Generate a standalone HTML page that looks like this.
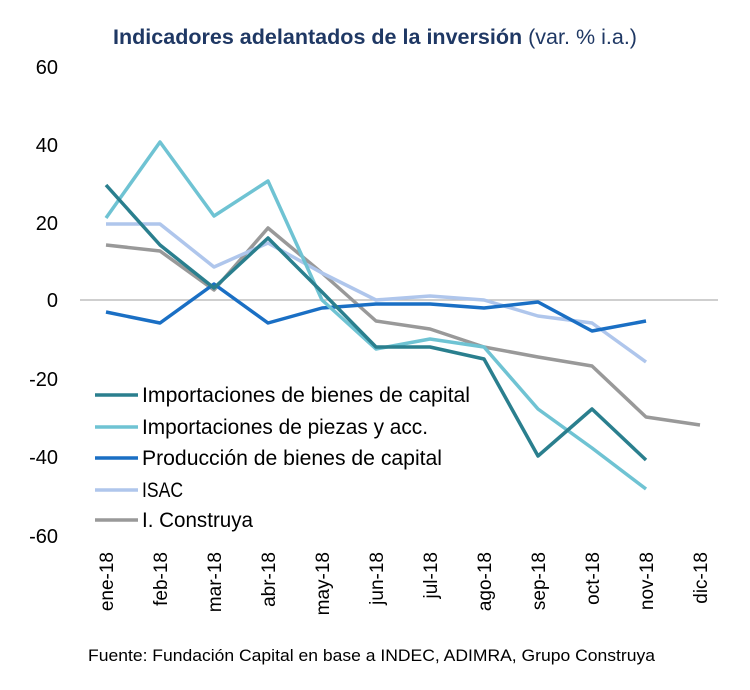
<!DOCTYPE html>
<html><head><meta charset="utf-8"><style>
html,body{margin:0;padding:0;background:#fff;}
svg{display:block;font-family:"Liberation Sans",Arial,sans-serif;}
</style></head><body>
<svg width="750" height="690" viewBox="0 0 750 690" xmlns="http://www.w3.org/2000/svg">
<rect width="750" height="690" fill="#fff"/>
<text x="375" y="44" text-anchor="middle" font-size="21" fill="#1F3864" textLength="524" lengthAdjust="spacingAndGlyphs"><tspan font-weight="bold">Indicadores adelantados de la inversión</tspan><tspan> (var. % i.a.)</tspan></text>
<g font-size="20" fill="#000" text-anchor="end">
<text x="58" y="74">60</text>
<text x="58" y="152">40</text>
<text x="58" y="230">20</text>
<text x="58" y="307">0</text>
<text x="58" y="386">-20</text>
<text x="58" y="464">-40</text>
<text x="58" y="543">-60</text>
</g>
<line x1="80" y1="300" x2="718" y2="300" stroke="#bfbfbf" stroke-width="1.5"/>
<g font-size="19" fill="#000" text-anchor="end">
<text transform="translate(113,552) rotate(-90)">ene-18</text>
<text transform="translate(167,552) rotate(-90)">feb-18</text>
<text transform="translate(221,552) rotate(-90)">mar-18</text>
<text transform="translate(275,552) rotate(-90)">abr-18</text>
<text transform="translate(329,552) rotate(-90)">may-18</text>
<text transform="translate(383,552) rotate(-90)">jun-18</text>
<text transform="translate(437,552) rotate(-90)">jul-18</text>
<text transform="translate(491,552) rotate(-90)">ago-18</text>
<text transform="translate(545,552) rotate(-90)">sep-18</text>
<text transform="translate(599,552) rotate(-90)">oct-18</text>
<text transform="translate(653,552) rotate(-90)">nov-18</text>
<text transform="translate(707,552) rotate(-90)">dic-18</text>
</g>
<g fill="none" stroke-width="3.5" stroke-linejoin="round">
<polyline stroke="#999999" points="106,245 160,251 214,290 268,228 322,273 376,321 430,329 484,347 538,357 592,366 646,417 700,425"/>
<polyline stroke="#AFC6EC" points="106,224 160,224 214,267 268,243 322,273 376,300 430,296 484,300 538,316 592,323 646,362"/>
<polyline stroke="#1A6FC4" points="106,312 160,323 214,284 268,323 322,308 376,304 430,304 484,308 538,302 592,331 646,321"/>
<polyline stroke="#6FC3D3" points="106,218 160,142 214,216 268,181 322,300 376,349 430,339 484,347 538,409 592,448 646,489"/>
<polyline stroke="#2A7F8E" points="106,185 160,245 214,288 268,238 322,292 376,347 430,347 484,359 538,456 592,409 646,460"/>
</g>
<g stroke-width="3.5">
<line x1="95" y1="395" x2="138" y2="395" stroke="#2A7F8E"/>
<line x1="95" y1="427" x2="138" y2="427" stroke="#6FC3D3"/>
<line x1="95" y1="458" x2="138" y2="458" stroke="#1A6FC4"/>
<line x1="95" y1="490" x2="138" y2="490" stroke="#AFC6EC"/>
<line x1="95" y1="520" x2="138" y2="520" stroke="#999999"/>
</g>
<g font-size="21" fill="#000">
<text x="142" y="402" textLength="328" lengthAdjust="spacingAndGlyphs">Importaciones de bienes de capital</text>
<text x="142" y="434" textLength="286" lengthAdjust="spacingAndGlyphs">Importaciones de piezas y acc.</text>
<text x="142" y="465" textLength="300" lengthAdjust="spacingAndGlyphs">Producción de bienes de capital</text>
<text x="142" y="497" textLength="41" lengthAdjust="spacingAndGlyphs">ISAC</text>
<text x="142" y="527" textLength="111" lengthAdjust="spacingAndGlyphs">I. Construya</text>
</g>
<text x="88" y="661" font-size="17" fill="#000" textLength="567" lengthAdjust="spacingAndGlyphs">Fuente: Fundación Capital en base a INDEC, ADIMRA, Grupo Construya</text>
</svg>
</body></html>
